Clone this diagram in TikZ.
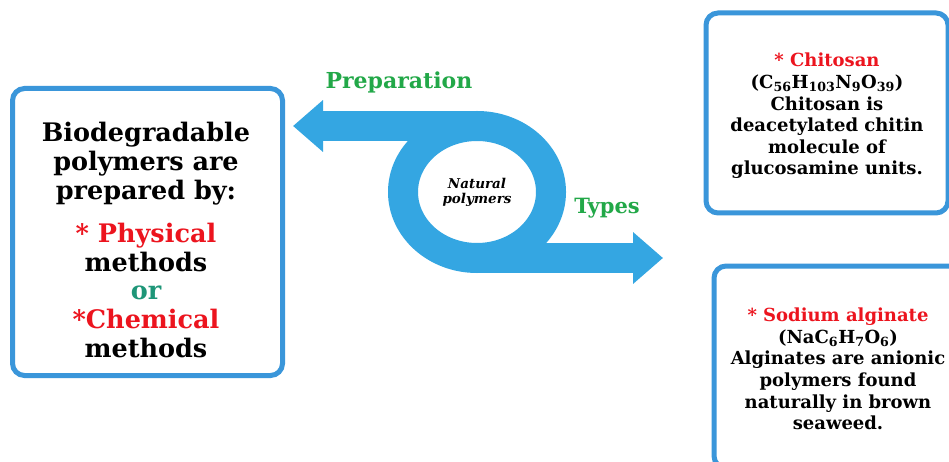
\documentclass[tikz,border=0pt]{standalone}
\usepackage{fontspec}
\setmainfont{DejaVu Serif}
\usetikzlibrary{shapes.geometric,arrows.meta,shadows}
\definecolor{boxblue}{RGB}{58,150,218}
\definecolor{bandblue}{RGB}{52,166,226}
\definecolor{labelgreen}{RGB}{34,168,72}
\definecolor{hotred}{RGB}{236,20,30}
\definecolor{orteal}{RGB}{30,150,120}

\begin{document}
\begin{tikzpicture}[x=1pt,y=-1pt,
  infobox/.style={draw=boxblue, line width=5pt, rounded corners=12pt, fill=white,
    drop shadow={shadow xshift=1.5pt, shadow yshift=-1.5pt, fill=black, opacity=0.2}},
  boxtext/.style={align=center, font=\bfseries\fontsize{18}{21.6}\selectfont},
  band/.style={draw=bandblue, line width=30pt},
  bandtip/.style={-{Triangle[length=30pt,width=50pt]}},
  greenlabel/.style={text=labelgreen, font=\bfseries\fontsize{22}{26}\selectfont}]

\clip (0,0) rectangle (949,462);
\fill[white] (0,0) rectangle (949,462);

\node[infobox, minimum width=270pt, minimum height=287pt] (methods) at (147.5,232) {};
\node[boxtext, font=\bfseries\fontsize{25.5}{28.6}\selectfont] (methodsText) at (146,240)
  {Biodegradable\\polymers are\\prepared by:\\[15pt]\textcolor{hotred}{* Physical}\\methods\\\textcolor{orteal}{or}\\\textcolor{hotred}{*Chemical}\\methods};

\node[infobox, minimum width=242pt, minimum height=200pt] (chitosan) at (827,113) {};
\node[boxtext] (chitosanText) at (827,116)
  {\textcolor{hotred}{* Chitosan}\\(C\textsubscript{56}H\textsubscript{103}N\textsubscript{9}O\textsubscript{39})\\Chitosan is\\deacetylated chitin\\molecule of\\glucosamine units.};

\node[infobox, minimum width=248pt, minimum height=202pt] (alginate) at (838,367) {};
\node[boxtext] (alginateText) at (838,369)
  {\textcolor{hotred}{* Sodium alginate}\\(NaC\textsubscript{6}H\textsubscript{7}O\textsubscript{6})\\Alginates are anionic\\polymers found\\naturally in brown\\seaweed.};

% loop with the two outgoing arrows
\node[ellipse, band, outer sep=0pt, inner sep=0pt, minimum width=148pt, minimum height=132pt, align=center,
  font=\bfseries\itshape\fontsize{13.5}{15}\selectfont] (hub) at (477,192) {Natural\\polymers};
\coordinate (prepTip) at (293,126);
\coordinate (typesTip) at (663,258);
\draw[band, bandtip] (hub.north) -- (prepTip);
\draw[band, bandtip] (hub.south) -- (typesTip);

\node[greenlabel] (prep) at (399,82) {Preparation};
\node[greenlabel, font=\bfseries\fontsize{21}{25}\selectfont] (types) at (607,208) {Types};
\end{tikzpicture}
\end{document}
